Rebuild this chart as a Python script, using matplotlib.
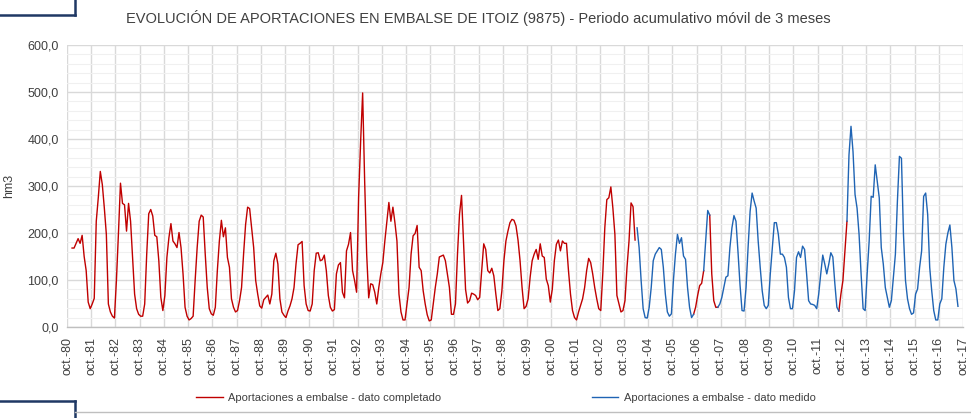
import numpy as np
import pandas as pd
import matplotlib
matplotlib.use("Agg")
import matplotlib.pyplot as plt
from matplotlib.lines import Line2D
from matplotlib import font_manager

# ---------------- data ----------------
titulo = "EVOLUCIÓN DE APORTACIONES EN EMBALSE DE ITOIZ (9875) - Periodo acumulativo móvil de 3 meses"
eje_y = "hm3"
serie_completada = "Aportaciones a embalse - dato completado"
serie_medida = "Aportaciones a embalse - dato medido"

inicio_eje = "1980-10"      # first category of the axis (oct.-80)
fin_eje = "2017-10"         # last tick (oct.-17)
inicio_serie = "1980-12"    # first month with a 3-month moving total
inicio_medido = "2004-04"   # first month with measured data
huecos_medido = [("2006-09", "2006-12"), ("2007-05", "2007-07"), ("2012-09", "2012-11")]

# 3-month moving total (hm3), one row per hydrological year (Oct..Sep)
aportaciones = [
    168, 168, 178, 188, 178, 195, 150, 120, 53, 39,                 # 80-81 (from Dec)
    49, 61, 225, 275, 331, 303, 253, 197, 49, 32, 23, 19,           # 81-82
    100, 200, 306, 263, 260, 204, 263, 225, 148, 70, 39, 27,        # 82-83
    23, 23, 49, 155, 241, 250, 236, 195, 192, 141, 63, 35,          # 83-84
    67, 148, 190, 220, 183, 177, 169, 201, 169, 113, 42, 23,        # 84-85
    15, 18, 23, 99, 169, 225, 238, 234, 155, 84, 39, 28,            # 85-86
    25, 42, 120, 183, 227, 192, 211, 148, 127, 60, 42, 32,          # 86-87
    35, 56, 84, 155, 218, 255, 252, 211, 169, 99, 70, 45,           # 87-88
    40, 58, 63, 68, 49, 70, 141, 157, 134, 60, 32, 25,              # 88-89
    20, 34, 45, 60, 84, 135, 175, 178, 182, 88, 49, 35,             # 89-90
    34, 49, 120, 157, 158, 141, 143, 153, 120, 67, 42, 34,          # 90-91
    37, 113, 132, 137, 74, 62, 162, 176, 201, 120, 99, 74,          # 91-92
    275, 394, 498, 310, 155, 62, 92, 90, 74, 49, 84, 113,           # 92-93
    137, 183, 225, 265, 225, 255, 222, 183, 70, 32, 15, 15,         # 93-94
    49, 84, 155, 194, 199, 216, 127, 120, 77, 49, 26, 13,           # 94-95
    15, 49, 84, 113, 149, 151, 153, 141, 113, 84, 27, 27,           # 95-96
    49, 155, 240, 280, 180, 80, 51, 56, 72, 70, 67, 58,             # 96-97
    63, 120, 177, 165, 120, 115, 125, 109, 70, 35, 39, 77,          # 97-98
    141, 183, 204, 222, 229, 227, 215, 185, 141, 84, 39, 44,        # 98-99
    60, 106, 141, 155, 165, 144, 177, 151, 148, 102, 88, 53,        # 99-00
    81, 141, 176, 185, 162, 183, 178, 178, 120, 70, 35, 20,         # 00-01
    15, 32, 46, 60, 84, 120, 146, 137, 113, 84, 60, 39,             # 01-02
    35, 113, 211, 271, 275, 298, 253, 197, 67, 49, 32, 35,          # 02-03
    56, 127, 183, 264, 256, 185, 211, 169, 99, 39, 20, 19,          # 03-04
    42, 84, 141, 155, 162, 169, 165, 127, 70, 32, 23, 28,           # 04-05
    99, 155, 197, 178, 190, 151, 144, 84, 42, 20, 27, 42,           # 05-06
    67, 88, 93, 120, 183, 248, 238, 113, 56, 42, 42, 49,            # 06-07
    63, 84, 106, 109, 169, 211, 237, 225, 160, 90, 35, 34,          # 07-08
    84, 169, 246, 285, 268, 253, 183, 127, 77, 46, 39, 46,          # 08-09
    113, 169, 222, 222, 197, 155, 155, 148, 127, 63, 39, 39,        # 09-10
    77, 148, 160, 148, 172, 165, 113, 56, 49, 48, 46, 39,           # 10-11
    70, 113, 153, 134, 113, 134, 158, 149, 92, 42, 34, 70,          # 11-12
    99, 162, 225, 366, 427, 373, 282, 253, 197, 113, 39, 35,        # 12-13
    113, 183, 278, 276, 345, 310, 275, 169, 134, 84, 63, 42,        # 13-14
    56, 106, 155, 268, 363, 359, 197, 99, 60, 39, 27, 30,           # 14-15
    70, 81, 127, 162, 278, 285, 239, 127, 77, 35, 15, 15,           # 15-16
    49, 60, 127, 176, 200, 217, 169, 99, 81, 44,                    # 16-17 (to Jul)
]

y_ticks = [0, 100, 200, 300, 400, 500, 600]
anios_ticks = list(range(1980, 2018))

# ---------------- build series ----------------
origen = pd.Period(inicio_eje, "M")
periodos = pd.period_range(inicio_serie, periods=len(aportaciones), freq="M")
m = np.array([(p - origen).n for p in periodos], dtype=float)
x = m + 0.5  # categories centred between tick marks
vals = np.array(aportaciones, dtype=float)

medido = np.array([p >= pd.Period(inicio_medido, "M") for p in periodos])
hueco = np.zeros(len(periodos), dtype=bool)
for a, b in huecos_medido:
    pa, pb = pd.Period(a, "M"), pd.Period(b, "M")
    hueco |= np.array([(p >= pa) and (p <= pb) for p in periodos])
hueco_ext = hueco.copy()
hueco_ext[1:] |= hueco[:-1]
hueco_ext[:-1] |= hueco[1:]

rojo = np.where((~medido) | hueco_ext, vals, np.nan)
azul = np.where(medido & ~hueco, vals, np.nan)

n_meses = (pd.Period(fin_eje, "M") - origen).n
tick_pos = [(pd.Period(f"{a}-10", "M") - origen).n for a in anios_ticks]
tick_lab = [f"oct.-{a % 100:02d}" for a in anios_ticks]

# ---------------- fonts ----------------
avail = {f.name for f in font_manager.fontManager.ttflist}
narrow = "Liberation Sans Narrow" if "Liberation Sans Narrow" in avail else "Liberation Sans"
base = "Liberation Sans" if "Liberation Sans" in avail else "DejaVu Sans"
plt.rcParams["font.family"] = [base, "DejaVu Sans"]

# ---------------- figure ----------------
W, H = 971, 418
fig = plt.figure(figsize=(W / 100, H / 100), dpi=100)
fig.patch.set_facecolor("white")
ax = fig.add_axes([67 / W, 1 - 327 / H, (963 - 67) / W, (327 - 45) / H])

ax.set_xlim(0, n_meses)
ax.set_ylim(0, 600)

ax.plot(x, rojo, color="#C00000", lw=1.0, zorder=3, label=serie_completada)
ax.plot(x, azul, color="#1F64B4", lw=1.0, zorder=4, label=serie_medida)

ax.set_yticks(y_ticks)
ax.set_yticklabels([f"{v:.1f}".replace(".", ",") for v in y_ticks], fontsize=9, color="#404040")
ax.set_yticks(np.arange(0, 601, 20), minor=True)
ax.set_xticks(tick_pos)
ax.set_xticklabels(tick_lab, rotation=90, fontsize=9, color="#404040", va="top")
ax.tick_params(axis="both", which="both", length=0, pad=6)
ax.tick_params(axis="x", pad=7)

ax.grid(which="major", axis="both", color="#D9D9D9", lw=1.0, zorder=0)
ax.grid(which="minor", axis="y", color="#F0F0F0", lw=0.8, zorder=0)
ax.set_axisbelow(True)
for s in ["top", "right", "left"]:
    ax.spines[s].set_visible(False)
ax.spines["bottom"].set_color("#BFBFBF")
ax.spines["bottom"].set_linewidth(1.0)

ax.set_ylabel(eje_y, fontsize=9, color="#404040", labelpad=4)
ax.yaxis.set_label_coords(-52 / (963 - 67), 0.5)

fig.text(478 / W, 1 - 18 / H, titulo, ha="center", va="center", fontsize=10.5,
         color="#404040", family=[narrow, "DejaVu Sans"])

leg = ax.legend(loc="center", bbox_to_anchor=(506 / W, 1 - 398 / H),
                bbox_transform=fig.transFigure, ncol=2, frameon=False,
                prop={"family": [narrow, "DejaVu Sans"], "size": 8},
                handlelength=2.4, handletextpad=0.5, columnspacing=13.5,
                borderaxespad=0)
for t in leg.get_texts():
    t.set_color("#404040")

# decorative frame pieces of the original slide
navy = "#1F3864"
fig.add_artist(Line2D([0, 75 / W], [1 - 15 / H, 1 - 15 / H], color=navy, lw=1.8, transform=fig.transFigure))
fig.add_artist(Line2D([75 / W, 75 / W], [1 - 15 / H, 1.0], color=navy, lw=1.8, transform=fig.transFigure))
fig.add_artist(Line2D([0, 75 / W], [1 - 401 / H, 1 - 401 / H], color=navy, lw=1.8, transform=fig.transFigure))
fig.add_artist(Line2D([75 / W, 75 / W], [0, 1 - 401 / H], color=navy, lw=1.8, transform=fig.transFigure))
fig.add_artist(Line2D([75 / W, 1.0], [1 - 412 / H, 1 - 412 / H], color="#BFBFBF", lw=1.0, transform=fig.transFigure))

fig.savefig("out.png", dpi=100, facecolor="white")
